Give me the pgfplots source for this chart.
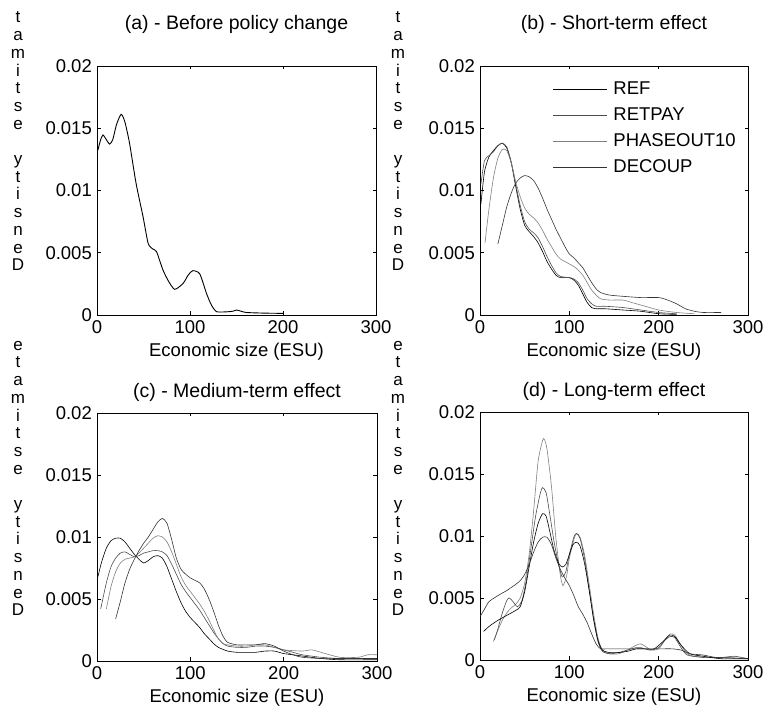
\documentclass[border=0pt]{standalone}
\usepackage{fontspec}
\setmainfont{Liberation Sans}
\usepackage{pgfplots}
\pgfplotsset{compat=1.18}
\pgfplotsset{
  myax/.style={
    scale only axis,
    xmin=0, xmax=300, ymin=0, ymax=0.02,
    xtick={0,100,200,300},
    ytick={0,0.005,0.01,0.015,0.02},
    tick align=inside,
    major tick length=3.5pt,
    tick style={black, line width=0.5pt},
    axis line style={black, line width=0.8pt},
    scaled y ticks=false,
    /pgf/number format/assume math mode=true,
    yticklabel style={/pgf/number format/fixed, /pgf/number format/precision=3, inner sep=0pt, xshift=-5pt},
    xticklabel style={inner sep=0pt, yshift=-5pt},
    ticklabel style={font=\fontsize{18.5}{20}\selectfont},
    title style={at={(axis description cs:0.5,1)}, anchor=base, inner sep=0pt, font=\fontsize{19.5}{21}\selectfont},
    xlabel style={at={(axis description cs:0.5,0)}, anchor=base, yshift=-42pt, inner sep=0pt, font=\fontsize{18.5}{20}\selectfont},
    xlabel={Economic size (ESU)},
    every axis plot/.append style={line width=0.6pt, smooth, tension=0.4},
  },
  toprow/.style={title style={yshift=30pt}},
  botrow/.style={title style={yshift=9pt}},
  s1/.style={black},
  s2/.style={black!70},
  s3/.style={black!50},
  s4/.style={black!80},
}
\begin{document}
\begin{tikzpicture}
\useasboundingbox (0pt,0pt) rectangle (763pt,708pt);
% stacked y labels
\node[anchor=south, inner sep=0pt, align=center, font=\fontsize{17}{17.7}\selectfont] at (18pt,437pt) {t\\a\\m\\i\\t\\s\\e\\[17.7pt]y\\t\\i\\s\\n\\e\\D};
\node[anchor=south, inner sep=0pt, align=center, font=\fontsize{17}{17.7}\selectfont] at (398pt,437pt) {t\\a\\m\\i\\t\\s\\e\\[17.7pt]y\\t\\i\\s\\n\\e\\D};
\node[anchor=south, inner sep=0pt, align=center, font=\fontsize{17}{17.7}\selectfont] at (18pt,92pt) {e\\t\\a\\m\\i\\t\\s\\e\\[17.7pt]y\\t\\i\\s\\n\\e\\D};
\node[anchor=south, inner sep=0pt, align=center, font=\fontsize{17}{17.7}\selectfont] at (398pt,92pt) {e\\t\\a\\m\\i\\t\\s\\e\\[17.7pt]y\\t\\i\\s\\n\\e\\D};

% (a)
\begin{axis}[myax, toprow, at={(97pt,393pt)}, anchor=south west, width=279pt, height=249pt,
  title={(a) - Before policy change}]
\addplot[black, line width=0.9pt] coordinates {(1,0.01325)(4,0.0141)(6.5,0.01446)(9,0.0142)(13.6,0.01373)(17,0.0141)(21,0.0153)(26,0.01612)(30,0.0155)(35,0.01379)(42,0.01058)(49.5,0.0079)(55,0.00576)(60,0.0053)(64,0.00509)(71,0.0036)(77,0.0027)(83.6,0.00206)(92.6,0.00254)(98,0.0032)(103,0.00356)(110.5,0.0033)(117.7,0.00174)(123,0.0008)(128.5,0.00027)(138,0.00025)(146,0.0003)(150,0.0004)(155,0.0003)(160.7,0.0002)(180,0.00015)(200,0.00013)};
\end{axis}

% (b)
\begin{axis}[myax, toprow, at={(480pt,393pt)}, anchor=south west, width=268pt, height=249pt,
  title={(b) - Short-term effect},
  legend style={at={(axis description cs:0.271,0.94)}, anchor=north west, draw=none, fill=none,
    font=\fontsize{18.5}{20}\selectfont, inner sep=0pt, row sep=9pt, column sep=6pt,
    nodes={inner sep=0pt, text height=13pt, text depth=4pt}},
  legend cell align=left,
  legend image code/.code={\draw[#1, sharp plot] (0pt,0pt) -- (54pt,0pt);}]
\addplot[s1] coordinates {(1,0.0089)(5,0.0115)(10,0.0127)(15,0.0132)(20,0.0136)(25,0.0138)(30,0.0134)(35,0.0122)(40,0.0103)(45,0.0085)(50,0.0072)(55,0.0067)(60,0.0063)(65,0.0058)(70,0.0051)(75,0.0043)(80,0.0037)(85,0.0032)(90,0.0030)(100,0.0030)(105,0.0028)(110,0.0024)(115,0.0017)(120,0.0010)(125,0.0006)(130,0.0005)(140,0.0005)(160,0.0004)(180,0.0003)(200,0.0001)(220,0.00005)};
\addplot[s2] coordinates {(1,0.0105)(5,0.0124)(10,0.0128)(15,0.0131)(20,0.0136)(25,0.0138)(30,0.0135)(35,0.0123)(40,0.0105)(45,0.0088)(50,0.0075)(55,0.0069)(60,0.0066)(65,0.0062)(70,0.0055)(75,0.0047)(80,0.0040)(85,0.0034)(90,0.0031)(100,0.0030)(105,0.0029)(110,0.0026)(115,0.0020)(120,0.0013)(125,0.0009)(130,0.0007)(140,0.0007)(160,0.0006)(180,0.0004)(200,0.0002)(220,0.0001)};
\addplot[s3] coordinates {(5.6,0.0058)(10,0.0085)(15,0.011)(20,0.0126)(25,0.0133)(30,0.0132)(35,0.0122)(40,0.0107)(45,0.0095)(50,0.0086)(55,0.0081)(60,0.0078)(65,0.0074)(70,0.0068)(75,0.0061)(80,0.0055)(85,0.0049)(90,0.0045)(95,0.0043)(100,0.0041)(105,0.0039)(110,0.0036)(115,0.0032)(120,0.0026)(125,0.0020)(130,0.0016)(135,0.0013)(145,0.0012)(160,0.0012)(170,0.0010)(180,0.0008)(190,0.0006)(200,0.0004)(220,0.0002)(240,0.0001)};
\addplot[s4] coordinates {(20,0.0057)(25,0.0072)(30,0.0087)(35,0.0098)(40,0.0106)(45,0.0110)(50,0.0112)(55,0.0111)(60,0.0108)(65,0.0102)(70,0.0094)(75,0.0085)(80,0.0077)(85,0.0069)(90,0.0062)(95,0.0055)(100,0.0049)(105,0.0046)(110,0.0042)(115,0.0038)(120,0.0032)(125,0.0026)(130,0.0021)(135,0.0018)(145,0.0016)(160,0.0015)(180,0.0014)(200,0.0014)(210,0.0012)(220,0.0009)(230,0.0005)(240,0.0003)(250,0.0002)(270,0.0002)};
\legend{REF,RETPAY,PHASEOUT10,DECOUP}
\end{axis}

% (c)
\begin{axis}[myax, botrow, at={(97pt,47pt)}, anchor=south west, width=280pt, height=248pt,
  title={(c) - Medium-term effect}]
\addplot[s1] coordinates {(1,0.0068)(5,0.0080)(10,0.0091)(15,0.0097)(20,0.0099)(25,0.0099)(30,0.0096)(35,0.0091)(40,0.0086)(45,0.0082)(50,0.0079)(55,0.0081)(60,0.0084)(65,0.0085)(70,0.0083)(75,0.0076)(80,0.0066)(85,0.0056)(90,0.0047)(95,0.0040)(100,0.0035)(105,0.0031)(110,0.0027)(115,0.0022)(120,0.0018)(125,0.0014)(130,0.0011)(140,0.0008)(150,0.0007)(160,0.0007)(170,0.0007)(180,0.0008)(190,0.0008)(200,0.0006)(210,0.0005)(220,0.0004)(240,0.0002)(260,0.0001)(300,0.0001)};
\addplot[s2] coordinates {(4,0.0042)(10,0.0063)(15,0.0076)(20,0.0083)(25,0.0087)(30,0.0088)(35,0.0086)(40,0.0084)(45,0.0085)(50,0.0087)(55,0.0088)(60,0.0089)(65,0.0089)(70,0.0088)(75,0.0085)(80,0.0078)(85,0.0070)(90,0.0062)(95,0.0056)(100,0.0051)(105,0.0046)(110,0.0041)(115,0.0035)(120,0.0029)(125,0.0023)(130,0.0018)(135,0.0014)(140,0.0012)(150,0.0011)(160,0.0011)(170,0.0012)(180,0.0012)(190,0.0011)(200,0.0009)(210,0.0007)(220,0.0005)(240,0.0003)(260,0.0002)(280,0.0002)(300,0.0002)};
\addplot[s3] coordinates {(10,0.0042)(15,0.0060)(20,0.0072)(25,0.0079)(30,0.0082)(35,0.0083)(40,0.0084)(45,0.0087)(50,0.0091)(55,0.0095)(60,0.0099)(65,0.0101)(70,0.0100)(75,0.0096)(80,0.0088)(85,0.0078)(90,0.0068)(95,0.0061)(100,0.0056)(105,0.0051)(110,0.0046)(115,0.0040)(120,0.0033)(125,0.0025)(130,0.0018)(135,0.0014)(140,0.0013)(150,0.0012)(160,0.0012)(170,0.0013)(180,0.0013)(190,0.0011)(200,0.0009)(220,0.0008)(230,0.0009)(240,0.0007)(260,0.0003)(280,0.0003)(290,0.0005)(300,0.0005)};
\addplot[s4] coordinates {(20,0.0034)(25,0.0048)(30,0.0063)(35,0.0074)(40,0.0082)(45,0.0089)(50,0.0095)(55,0.0100)(60,0.0106)(65,0.0112)(70,0.0115)(75,0.0111)(80,0.0098)(85,0.0083)(90,0.0074)(95,0.0070)(100,0.0067)(105,0.0065)(110,0.0063)(115,0.0058)(120,0.0050)(125,0.0040)(130,0.0029)(135,0.0020)(140,0.0015)(150,0.0013)(160,0.0013)(170,0.0013)(180,0.0014)(190,0.0012)(200,0.0008)(210,0.0005)(220,0.0003)(240,0.0002)(260,0.0002)(280,0.0002)(300,0.0002)};
\end{axis}

% (d)
\begin{axis}[myax, botrow, at={(480pt,48pt)}, anchor=south west, width=268pt, height=248pt,
  title={(d) - Long-term effect}]
\addplot[s3] coordinates {(15,0.0015)(20,0.0024)(25,0.0032)(30,0.0038)(35,0.0042)(40,0.0045)(45,0.0050)(50,0.0062)(55,0.0085)(60,0.0120)(65,0.0160)(70,0.0177)(72,0.0178)(75,0.0170)(80,0.0140)(85,0.0098)(90,0.0068)(93,0.0060)(97,0.0068)(100,0.0082)(105,0.0097)(108,0.0102)(112,0.0099)(117,0.0085)(122,0.0062)(127,0.0038)(132,0.0018)(137,0.0008)(145,0.0005)(155,0.0005)(165,0.0008)(175,0.0012)(180,0.0013)(185,0.0011)(192,0.0008)(200,0.0009)(207,0.0016)(213,0.0021)(218,0.0020)(225,0.0012)(232,0.0005)(240,0.0003)(260,0.0002)(280,0.0002)(300,0.0001)};
\addplot[s2] coordinates {(16,0.0016)(20,0.0025)(25,0.0038)(30,0.0048)(33,0.0050)(37,0.0047)(42,0.0043)(47,0.0048)(52,0.0065)(57,0.0090)(62,0.0115)(67,0.0133)(70,0.0139)(74,0.0135)(78,0.0118)(83,0.0095)(88,0.0077)(92,0.0067)(96,0.0071)(100,0.0085)(105,0.0099)(108,0.0102)(112,0.0098)(117,0.0082)(122,0.0058)(127,0.0033)(132,0.0015)(137,0.0007)(145,0.0005)(155,0.0006)(165,0.0008)(175,0.0010)(180,0.0010)(190,0.0008)(200,0.0010)(207,0.0016)(213,0.0019)(218,0.0018)(225,0.0010)(232,0.0004)(250,0.0002)(270,0.0002)(285,0.0003)(300,0.0001)};
\addplot[s1] coordinates {(4,0.0023)(10,0.0027)(20,0.0032)(30,0.0036)(40,0.0040)(45,0.0043)(50,0.0055)(55,0.0075)(60,0.0095)(65,0.0110)(70,0.0118)(74,0.0116)(78,0.0104)(83,0.0088)(88,0.0078)(92,0.0075)(96,0.0077)(100,0.0085)(104,0.0093)(108,0.0095)(112,0.0092)(117,0.0078)(122,0.0057)(127,0.0034)(132,0.0016)(137,0.0008)(145,0.0006)(155,0.0006)(165,0.0007)(175,0.0009)(185,0.0009)(195,0.0009)(205,0.0015)(212,0.0020)(218,0.0019)(225,0.0012)(235,0.0005)(250,0.0003)(270,0.0001)(300,0.0001)};
\addplot[s4] coordinates {(0,0.0035)(5,0.0041)(10,0.0047)(18,0.0051)(25,0.0054)(30,0.0056)(40,0.0061)(45,0.0064)(50,0.0069)(55,0.0077)(60,0.0087)(65,0.0095)(70,0.0099)(75,0.0099)(80,0.0093)(85,0.0082)(90,0.0073)(95,0.0066)(100,0.0060)(105,0.0052)(110,0.0043)(115,0.0037)(120,0.0030)(125,0.0021)(130,0.0013)(135,0.0009)(145,0.0009)(200,0.0009)(215,0.0009)(225,0.0008)(235,0.0005)(250,0.0004)(265,0.0002)(300,0.0001)};
\end{axis}
\end{tikzpicture}
\end{document}
